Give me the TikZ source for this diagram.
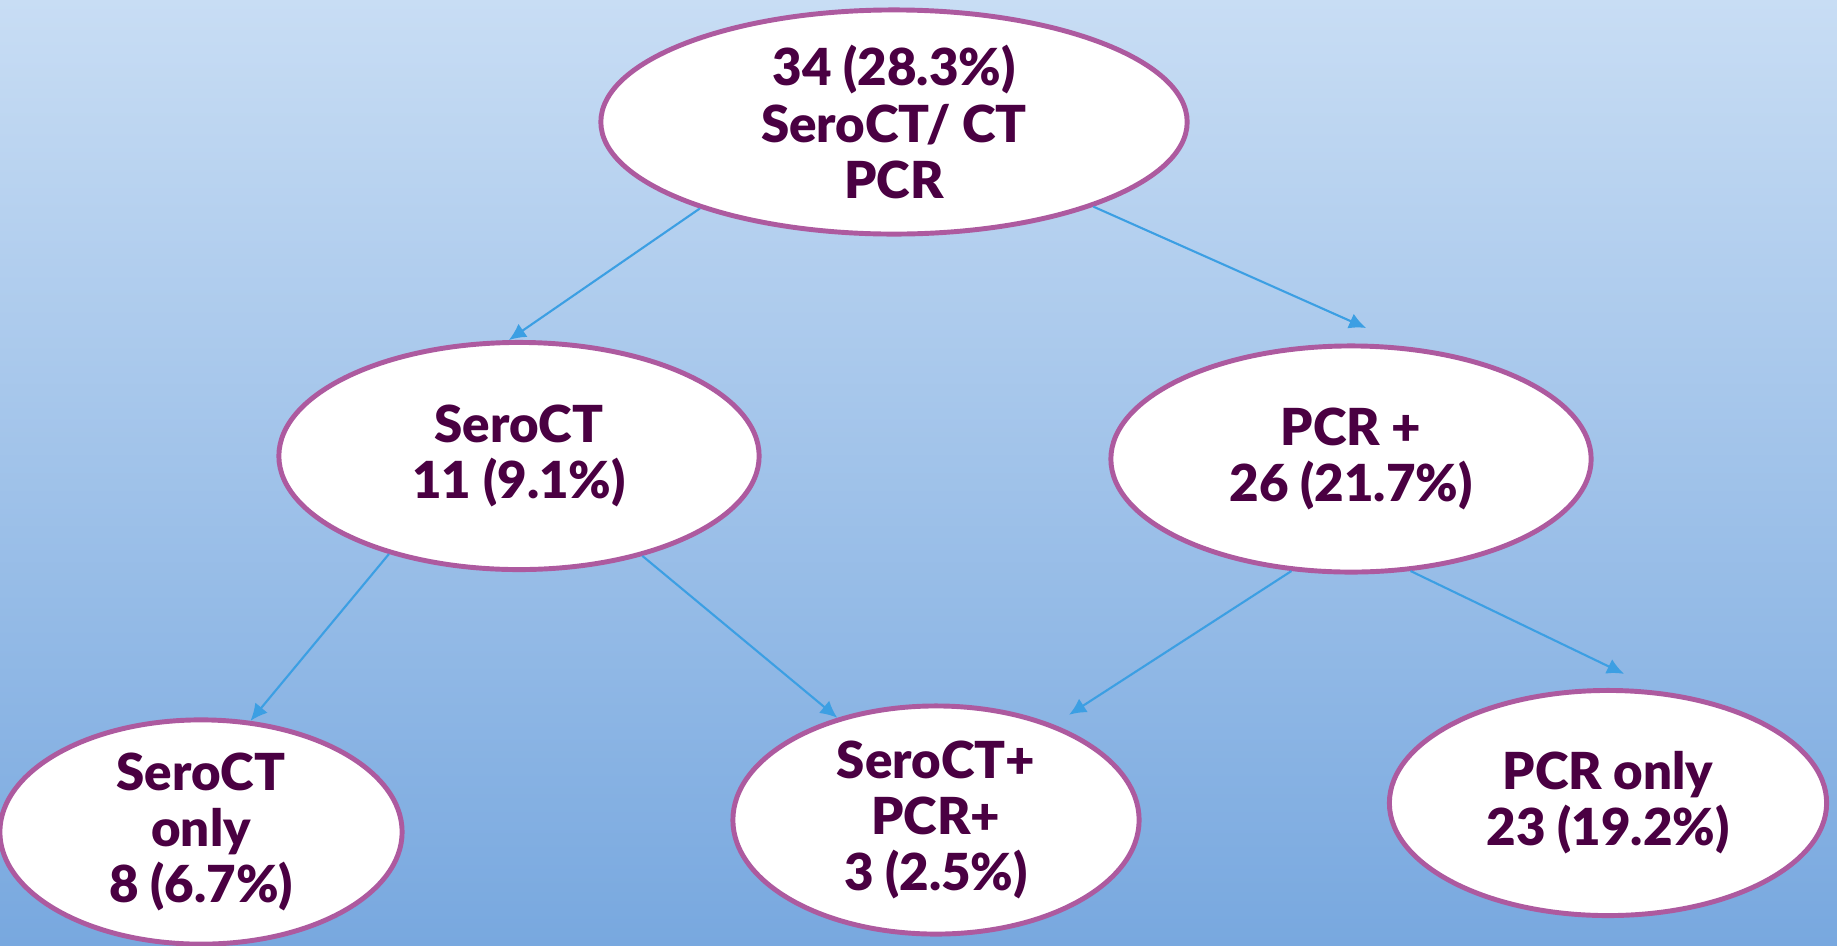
\documentclass[tikz,border=0pt]{standalone}
\usepackage{xcolor}
\usepackage{fontspec}
\setmainfont{Lato}[BoldFont={Lato Black}]
\usepackage{tikz}
\usetikzlibrary{arrows.meta}
\usetikzlibrary{shapes.geometric}
\definecolor{skytop}{HTML}{C8DDF4}
\definecolor{skybot}{HTML}{78A8DF}
\definecolor{rim}{HTML}{AD5A9F}
\definecolor{ink}{HTML}{4A0042}
\definecolor{arr}{HTML}{3C9FE3}
\tikzset{bubble/.style={ellipse, draw=rim, line width=1.4pt, fill=white, inner sep=0pt,
  align=center, text=ink, font=\fontsize{14.5}{16}\selectfont\bfseries}}
\tikzset{link/.style={arr, line width=0.6pt, -{Latex[length=1.7mm, width=1.6mm]}}}

\begin{document}
\begin{tikzpicture} [x=0.01cm, y=-0.01cm]
\shade[top color=skytop, bottom color=skybot] (0,0) rectangle (1837,945);
\useasboundingbox (0,0) rectangle (1837,945);
\node[bubble, minimum width=5.86cm, minimum height=2.24cm] (all) at (894,122) {34 (28.3\%)\\SeroCT/ CT\\PCR};
\node[bubble, minimum width=4.8cm, minimum height=2.27cm] (sero) at (519,456) {SeroCT\\11 (9.1\%)};
\node[bubble, minimum width=4.8cm, minimum height=2.26cm] (pcr) at (1351,459) {PCR +\\26 (21.7\%)};
\node[bubble, minimum width=4.02cm, minimum height=2.23cm] (seroonly) at (201,832) {SeroCT\\only\\8 (6.7\%)};
\node[bubble, minimum width=4.06cm, minimum height=2.28cm] (both) at (936,820) {SeroCT+\\PCR+\\3 (2.5\%)};
\node[bubble, minimum width=4.37cm, minimum height=2.25cm] (pcronly) at (1608,803) {PCR only\\23 (19.2\%)};
\draw[link] (all.-156) -- (sero.95);
\draw[link, shorten >=0.46cm] (all.-23) -- (pcr.63);
\draw[link] (sero.-143) -- (seroonly.66);
\draw[link] (sero.-39) -- (both.134);
\draw[link, shorten >=0.18cm] (pcr.-118) -- (both.39);
\draw[link, shorten >=0.4cm] (pcr.-62) -- (pcronly.65);
\end{tikzpicture}
\end{document}
